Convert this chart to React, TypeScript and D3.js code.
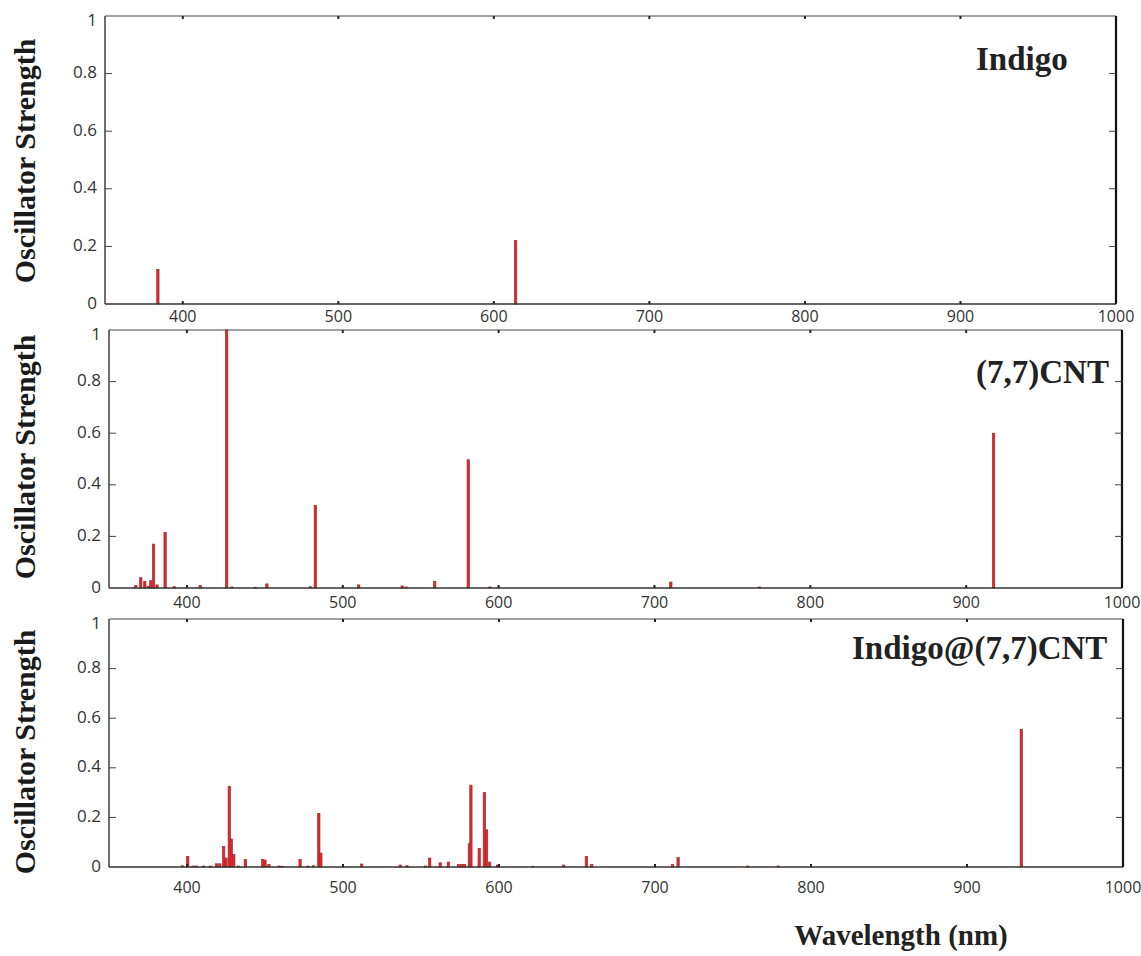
import React from "react";
import * as d3 from "d3";

// wavelength (nm), oscillator strength
const indigoLines = [
  [384, 0.12],
  [614, 0.22],
];

const cntLines = [
  [367.2, 0.01], [370.4, 0.04], [373, 0.025], [375.5, 0.006], [376.8, 0.028],
  [378.6, 0.17], [380.8, 0.012], [386, 0.216], [391.8, 0.005], [408.5, 0.01],
  [425.5, 1.0], [428.9, 0.004], [443.8, 0.003], [451.3, 0.016], [479.2, 0.005],
  [482.4, 0.32], [510.2, 0.012], [538.1, 0.008], [540.7, 0.004], [559, 0.026],
  [580.5, 0.497], [594.4, 0.004], [710.5, 0.023], [767.3, 0.004], [917.6, 0.6],
];

const hybridLines = [
  [397, 0.005], [400.5, 0.043], [404, 0.004], [406, 0.004], [410.6, 0.004],
  [415, 0.004], [419, 0.013], [421, 0.013], [423.5, 0.083], [425, 0.036],
  [427.1, 0.325], [428.4, 0.113], [430, 0.05], [433, 0.004], [437.4, 0.03],
  [448.5, 0.03], [450, 0.028], [452.5, 0.01], [459, 0.004], [461, 0.003],
  [472.5, 0.03], [477.5, 0.004], [481, 0.005], [484.5, 0.216], [485.8, 0.056],
  [512, 0.012], [536.7, 0.008], [541, 0.005], [553, 0.004], [555.6, 0.036],
  [562.3, 0.017], [567.5, 0.02], [574, 0.01], [576, 0.01], [578, 0.01],
  [581, 0.094], [582, 0.33], [587.3, 0.075], [590.6, 0.3], [592, 0.15],
  [594, 0.02], [599, 0.008], [621.5, 0.003], [641.5, 0.008], [656, 0.043],
  [659.5, 0.01], [711.2, 0.01], [714.8, 0.038], [759.4, 0.004], [779, 0.004],
  [934.8, 0.555],
];

const xTicks = [400, 500, 600, 700, 800, 900, 1000];
const yTicks = [0, 0.2, 0.4, 0.6, 0.8, 1];
const xDomain = [350, 1000];

const panels = [
  { name: "Indigo", lines: indigoLines, x0: 105, x1: 1116, yTop: 16, yBot: 304, labelX: 976, labelY: 70, tickLabelDy: 18, axisLabelY: 161 },
  { name: "(7,7)CNT", lines: cntLines, x0: 109, x1: 1122, yTop: 330, yBot: 588, labelX: 976, labelY: 383, tickLabelDy: 20, axisLabelY: 457 },
  { name: "Indigo@(7,7)CNT", lines: hybridLines, x0: 109, x1: 1123, yTop: 619, yBot: 867, labelX: 852, labelY: 659, tickLabelDy: 26, axisLabelY: 752 },
];

const serif = "'Liberation Serif', 'Times New Roman', serif";
const sans = "'Open Sans', 'Noto Sans', sans-serif";

function Panel({ p }) {
  const x = d3.scaleLinear().domain(xDomain).range([p.x0, p.x1]);
  const y = d3.scaleLinear().domain([0, 1]).range([p.yBot, p.yTop]);
  const barW = 2.3;
  const fmt = (v) => (v === 0 || v === 1 ? String(v) : d3.format(".1f")(v));

  return (
    <g>
      {p.lines.map(([wl, f], i) => (
        <rect
          key={i}
          x={x(wl) - barW / 2}
          y={y(f)}
          width={barW}
          height={Math.max(0.8, y(0) - y(f))}
          fill="#e3262b"
          stroke="#a02a2c"
          strokeWidth={0.7}
        />
      ))}

      {/* frame */}
      <line x1={p.x0} x2={p.x1} y1={p.yTop} y2={p.yTop} stroke="#444" strokeWidth={1.2} />
      <line x1={p.x0} x2={p.x1} y1={p.yBot} y2={p.yBot} stroke="#333" strokeWidth={1.4} />
      <line x1={p.x0} x2={p.x0} y1={p.yTop} y2={p.yBot} stroke="#333" strokeWidth={1.4} />
      <line x1={p.x1} x2={p.x1} y1={p.yTop} y2={p.yBot} stroke="#111" strokeWidth={2.2} />

      {/* y ticks, inward both sides */}
      {yTicks.filter((t) => t > 0 && t < 1).map((t) => (
        <g key={t}>
          <line x1={p.x0} x2={p.x0 + 7} y1={y(t)} y2={y(t)} stroke="#444" strokeWidth={1} />
          <line x1={p.x1} x2={p.x1 - 7} y1={y(t)} y2={y(t)} stroke="#444" strokeWidth={1} />
        </g>
      ))}
      {yTicks.map((t) => (
        <text
          key={t}
          x={p.x0 - 8}
          y={y(t) + (t === 1 ? 5 : 0)}
          textAnchor="end"
          dominantBaseline="middle"
          fontFamily={sans}
          fontSize={17}
          fill="#333"
        >
          {fmt(t)}
        </text>
      ))}

      {/* x ticks, short dots top and bottom */}
      {xTicks.filter((t) => t < 1000).map((t) => (
        <g key={t}>
          <line x1={x(t)} x2={x(t)} y1={p.yBot} y2={p.yBot - 3} stroke="#222" strokeWidth={2} />
          <line x1={x(t)} x2={x(t)} y1={p.yTop} y2={p.yTop + 3} stroke="#222" strokeWidth={2} />
        </g>
      ))}
      {xTicks.map((t) => (
        <text
          key={t}
          x={x(t)}
          y={p.yBot + p.tickLabelDy}
          textAnchor="middle"
          fontFamily={sans}
          fontSize={16}
          fill="#333"
        >
          {t}
        </text>
      ))}

      <text
        transform={`translate(35,${p.axisLabelY}) rotate(-90)`}
        textAnchor="middle"
        fontFamily={serif}
        fontWeight="bold"
        fontSize={30}
        fill="#1a1a1a"
      >
        Oscillator Strength
      </text>

      <text x={p.labelX} y={p.labelY} fontFamily={serif} fontWeight="bold" fontSize={33} fill="#222">
        {p.name}
      </text>
    </g>
  );
}

export default function App() {
  return (
    <svg
      width={1141}
      height={956}
      style={{ position: "absolute", left: 0, top: 0, background: "#fff" }}
    >
      <rect width={1141} height={956} fill="#fff" />
      {panels.map((p) => (
        <Panel key={p.name} p={p} />
      ))}
      <text x={901} y={945} textAnchor="middle" fontFamily={serif} fontWeight="bold" fontSize={29} fill="#222">
        Wavelength (nm)
      </text>
    </svg>
  );
}
